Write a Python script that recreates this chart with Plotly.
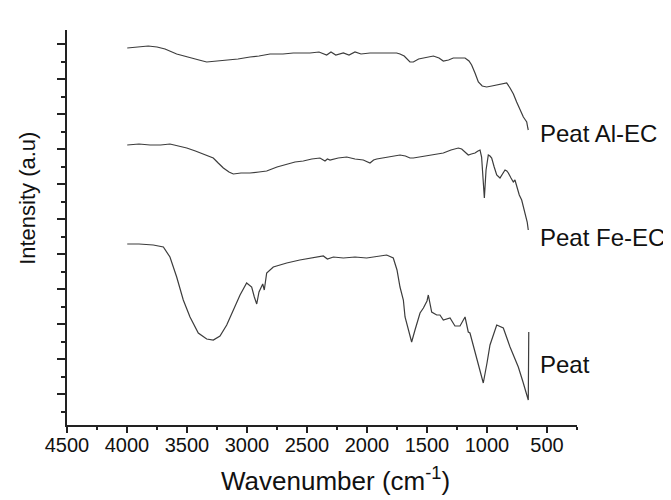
import plotly.graph_objects as go

# Wavenumber (cm-1) and intensity (a.u., offset traces)
al_wn = [3998, 3900, 3823, 3750, 3683, 3586, 3475, 3400, 3336, 3250, 3169, 3075, 2975, 2900, 2808, 2700,
         2614, 2550, 2475, 2400, 2336, 2300, 2260, 2197, 2150, 2100, 2050, 1975, 1900, 1830, 1753, 1725,
         1690, 1642, 1614, 1570, 1531, 1490, 1447, 1400, 1364, 1320, 1281, 1230, 1183, 1150, 1128, 1100,
         1072, 1040, 1003, 960, 919, 880, 836, 808, 780, 753, 725, 697, 680, 669, 660, 656]
al_int = [377, 378, 379, 378, 376, 371, 367, 365, 363, 364, 365, 366, 368, 369, 371, 371,
          372, 372, 372, 373, 370, 373, 370, 372, 370, 373, 371, 372, 372, 372, 372, 371,
          369, 363, 363, 366, 367, 368, 369, 367, 364, 365, 367, 367, 367, 364, 360, 352,
          343, 339, 338, 339, 340, 341, 342, 337, 331, 323, 315, 308, 305, 303, 297, 295]

fe_wn = [3998, 3900, 3808, 3720, 3642, 3570, 3502, 3430, 3364, 3281, 3240, 3197, 3150, 3114, 3050, 2975,
         2900, 2836, 2750, 2669, 2600, 2531, 2460, 2392, 2350, 2330, 2308, 2240, 2169, 2100, 2031, 1975,
         1945, 1919, 1820, 1725, 1680, 1642, 1614, 1560, 1503, 1430, 1364, 1300, 1239, 1211, 1180, 1156,
         1130, 1100, 1075, 1058, 1045, 1036, 1022, 1008, 995, 989, 975, 961, 940, 919, 892, 870,
         850, 835, 822, 800, 781, 767, 747, 731, 711, 683, 665, 656]
fe_int = [280, 281, 280, 280, 281, 279, 277, 274, 271, 267, 262, 257, 253, 251, 252, 252,
          253, 254, 258, 261, 263, 264, 266, 267, 264, 266, 265, 267, 268, 266, 265, 262,
          265, 266, 268, 270, 269, 267, 267, 268, 269, 271, 272, 275, 277, 276, 273, 270,
          271, 272, 274, 275, 268, 255, 227, 255, 266, 270, 269, 267, 258, 250, 247, 251,
          255, 254, 252, 247, 243, 245, 237, 230, 225, 212, 203, 195]

peat_wn = [3998, 3900, 3781, 3697, 3642, 3586, 3531, 3475, 3406, 3336, 3281, 3225, 3169, 3114, 3058, 3003,
           2961, 2939, 2919, 2900, 2869, 2856, 2836, 2781, 2669, 2560, 2475, 2364, 2330, 2280, 2197, 2100,
           2003, 1900, 1836, 1781, 1750, 1725, 1697, 1683, 1642, 1628, 1600, 1558, 1530, 1517, 1500, 1489,
           1461, 1419, 1392, 1364, 1308, 1267, 1225, 1183, 1156, 1142, 1086, 1031, 1000, 975, 919, 864,
           808, 739, 700, 656, 652]
peat_int = [181, 181, 180, 178, 168, 148, 125, 108, 92, 86, 85, 89, 100, 115, 130, 142,
            138, 128, 121, 133, 141, 135, 152, 158, 162, 165, 167, 169, 166, 168, 167, 168,
            167, 169, 170, 167, 155, 138, 125, 108, 88, 83, 95, 112, 117, 120, 124, 130,
            113, 110, 110, 105, 107, 99, 99, 108, 93, 92, 67, 42, 62, 80, 100, 97,
            78, 58, 43, 25, 93]

labels = ["Peat Al-EC", "Peat Fe-EC", "Peat"]
label_wn = [575, 575, 575]
label_int = [292, 188, 61]

x_ticks = [4500, 4000, 3500, 3000, 2500, 2000, 1500, 1000, 500]

line_color = "#3c3c3c"
fig = go.Figure()
for wn, it in [(al_wn, al_int), (fe_wn, fe_int), (peat_wn, peat_int)]:
    fig.add_trace(go.Scatter(x=wn, y=it, mode="lines", line=dict(color=line_color, width=1.2),
                             showlegend=False, hoverinfo="skip"))

for t, xw, yi in zip(labels, label_wn, label_int):
    fig.add_annotation(x=xw, y=yi, xref="x", yref="y", text=t, showarrow=False,
                       xanchor="left", yanchor="middle",
                       font=dict(family="Liberation Sans, Arial", size=24, color="#111"))

fig.add_annotation(x=0.527, y=-0.137, xref="paper", yref="paper", text="Wavenumber (cm<sup>-1</sup>)",
                   showarrow=False, xanchor="center", yanchor="middle",
                   font=dict(family="Liberation Sans, Arial", size=26, color="#111"))
fig.add_annotation(x=-0.0765, y=0.575, xref="paper", yref="paper", text="Intensity (a.u)",
                   showarrow=False, xanchor="center", yanchor="middle", textangle=-90,
                   font=dict(family="Liberation Sans, Arial", size=22, color="#111"))

fig.update_layout(
    width=663, height=492,
    margin=dict(l=59, r=94, t=22, b=75),
    paper_bgcolor="white", plot_bgcolor="white",
    font=dict(family="Liberation Sans, Arial", color="#111"),
    xaxis=dict(range=[4500, 250], tickvals=x_ticks, ticks="outside", ticklen=6, tickwidth=1.5,
               tickcolor="#222", showline=True, linecolor="#222", linewidth=1.5, showgrid=False,
               zeroline=False, tickfont=dict(size=20, color="#111"), ticklabelstandoff=-5,
               minor=dict(ticks="outside", ticklen=3, tickwidth=1.5, tickcolor="#222",
                          tick0=4250, dtick=500, showgrid=False)),
    yaxis=dict(range=[0, 395], tick0=31, dtick=35, ticks="outside", ticklen=8, tickwidth=1.5,
               tickcolor="#222", showline=True, linecolor="#222", linewidth=1.5, showgrid=False,
               zeroline=False, showticklabels=False,
               minor=dict(ticks="outside", ticklen=4, tickwidth=1.5, tickcolor="#222",
                          tick0=13.5, dtick=17.5, showgrid=False)),
)

fig.write_html("out.html")
